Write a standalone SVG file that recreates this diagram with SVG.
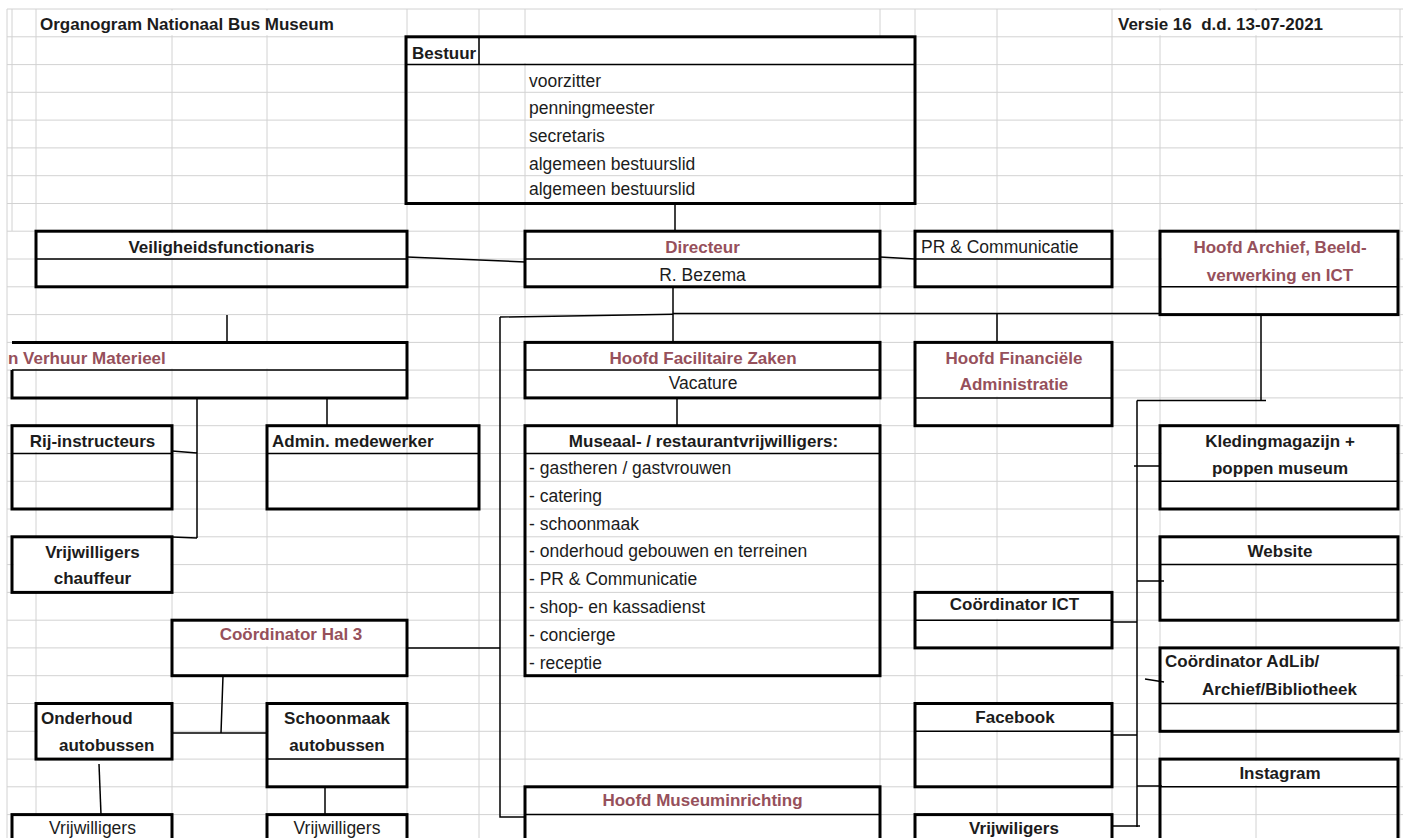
<svg xmlns="http://www.w3.org/2000/svg" width="1403" height="838" viewBox="0 0 1403 838">
<style>
.g{stroke:#d2d2d2;stroke-width:1;fill:none}
.h{stroke:#ffffff;stroke-width:3;fill:none}
.box{fill:none;stroke:#000;stroke-width:3}
.sep{stroke:#000;stroke-width:1.5;fill:none}
.c{stroke:#000;stroke-width:1.5;fill:none}
text{font-family:"Liberation Sans",Arial,sans-serif;fill:#1c1c1c}
.t{font-size:17.5px}
.b{font-size:17px;font-weight:bold}
.m{font-size:17px;font-weight:bold;fill:#96505b}
.mid{text-anchor:middle}
</style>
<defs>
<clipPath id="clipL"><rect x="7.5" y="0" width="1400" height="838"/></clipPath>
</defs>
<rect width="1403" height="838" fill="#fff"/>
<g id="grid">
<path class="g" d="M7 9V838M12 9V231M36 9V838M172 9V838M267 9V838M407 9V838M479 9V838M525 9V838M880 9V838M915 9V838M997 9V838M1112 9V838M1160 9V838M1256 9V838M1400 9V838"/>
<path class="h" d="M172 10.5V35.3M267 10.5V35.3M1160 10.5V35.3M1256 10.5V35.3M525 38V63M880 38V202M172 232.7V257.5M267 232.7V257.5M997 232.7V257.5M1256 232.7V285.3M36 343.9V368.6M172 343.9V368.6M267 343.9V368.6M997 343.9V396.4M36 427.2V452M1256 427.2V479.8M36 538.3V590.9M1256 538.3V563.1M997 593.9V618.7M267 621.7V646.4M1256 649.4V702M997 705V729.8M1256 760.6V785.3M36 816V838M997 816V838"/>
<path class="g" d="M7 9H1403M7 36.8H1403M7 64.6H1403M7 92.3H1403M7 120.1H1403M7 147.9H1403M7 175.7H1403M7 203.5H1403M7 231.2H1403M7 259H1403M7 286.8H1403M7 314.6H1403M7 342.4H1403M7 370.1H1403M7 397.9H1403M7 425.7H1403M7 453.5H1403M7 481.3H1403M7 509H1403M7 536.8H1403M7 564.6H1403M7 592.4H1403M7 620.2H1403M7 647.9H1403M7 675.7H1403M7 703.5H1403M7 731.3H1403M7 759.1H1403M7 786.8H1403M7 814.6H1403"/>
<path class="h" d="M1162 259H1396.5M916.5 370.1H1110.5M1161.5 453.5H1396.5M13.5 564.6H170.5M1161.5 675.7H1396.5M37.5 731.3H170.5M268.5 731.3H405.5"/>
</g>
<g id="connectors">
<path class="c" d="M675 203.5V231.2"/>
<path class="c" d="M407 257L525 262"/>
<path class="c" d="M880 257L915 259"/>
<path class="c" d="M673 286.8V342.4"/>
<path class="c" d="M500 317L673 314.3M673 313.5H1160"/>
<path class="c" d="M500 317V817H525"/>
<path class="c" d="M407 648H500"/>
<path class="c" d="M997 313.5V342.4"/>
<path class="c" d="M227 315V342.4"/>
<path class="c" d="M327 397.9V425.7"/>
<path class="c" d="M197 397.9V538M172 451L197 453M172 537L197 538"/>
<path class="c" d="M677 397.9V425.7"/>
<path class="c" d="M223 675.7L221 733M172 733H267"/>
<path class="c" d="M99 764L101 814.6"/>
<path class="c" d="M325 786.8V814.6"/>
<path class="c" d="M1261 314V401M1266 400.5H1137M1137 400.5V827"/>
<path class="c" d="M1134 466H1160M1137 581H1164M1112 622H1137M1145 679L1164 682M1112 735H1137M1137 786H1162M1112 826H1140"/>
</g>
<g id="header">
<text class="b" x="40" y="29.5">Organogram Nationaal Bus Museum</text>
<text class="b" x="1118" y="29.5" xml:space="preserve" style="white-space:pre">Versie 16  d.d. 13-07-2021</text>
</g>
<g id="bestuur">
<rect class="box" x="406" y="36.8" width="509" height="166.7"/>
<path class="sep" d="M406 64.6H915M479 36.8V64.6"/>
<text class="b" x="412" y="58.5">Bestuur</text>
<text class="t" x="529" y="86.5">voorzitter</text>
<text class="t" x="529" y="114.3">penningmeester</text>
<text class="t" x="529" y="142">secretaris</text>
<text class="t" x="529" y="169.8">algemeen bestuurslid</text>
<text class="t" x="529" y="195">algemeen bestuurslid</text>
</g>
<g id="veiligheid">
<rect class="box" x="36" y="231.2" width="371" height="55.6"/>
<path class="sep" d="M36 259H407"/>
<text class="b mid" x="221.5" y="253">Veiligheidsfunctionaris</text>
</g>
<g id="directeur">
<rect class="box" x="525" y="231.2" width="355" height="55.6"/>
<path class="sep" d="M525 259H880"/>
<text class="m mid" x="702.5" y="253">Directeur</text>
<text class="t mid" x="702.5" y="280.5">R. Bezema</text>
</g>
<g id="pr">
<rect class="box" x="915" y="231.2" width="197" height="55.6"/>
<path class="sep" d="M915 259H1112"/>
<text class="t" x="921" y="253">PR &amp; Communicatie</text>
</g>
<g id="archief">
<rect class="box" x="1160" y="231.2" width="238" height="83.4"/>
<path class="sep" d="M1160 286.8H1398"/>
<text class="m mid" x="1280" y="253">Hoofd Archief, Beeld-</text>
<text class="m mid" x="1280" y="280.5">verwerking en ICT</text>
</g>
<g id="verhuur">
<path class="box" d="M12 342.4H407V397.9H12V370.1"/>
<path class="sep" d="M12 370.1H407"/>
<text class="m" x="8" y="363.5" clip-path="url(#clipL)">n Verhuur Materieel</text>
</g>
<g id="facilitaire">
<rect class="box" x="525" y="342.4" width="355" height="55.5"/>
<path class="sep" d="M525 370.1H880"/>
<text class="m mid" x="703" y="363.5">Hoofd Facilitaire Zaken</text>
<text class="t mid" x="703" y="389">Vacature</text>
</g>
<g id="financieel">
<rect class="box" x="915" y="342.4" width="197" height="83.3"/>
<path class="sep" d="M915 397.9H1112"/>
<text class="m mid" x="1014" y="363.5">Hoofd Financiële</text>
<text class="m mid" x="1014" y="389.5">Administratie</text>
</g>
<g id="rij">
<rect class="box" x="12" y="425.7" width="160" height="83.3"/>
<path class="sep" d="M12 453.5H172"/>
<text class="b mid" x="92.5" y="446.5">Rij-instructeurs</text>
</g>
<g id="admin">
<rect class="box" x="267" y="425.7" width="212" height="83.3"/>
<path class="sep" d="M267 453.5H479"/>
<text class="b" x="272" y="446.5">Admin. medewerker</text>
</g>
<g id="museaal">
<rect class="box" x="525" y="425.7" width="355" height="250"/>
<path class="sep" d="M525 453.5H880"/>
<text class="b mid" x="703.5" y="446.5">Museaal- / restaurantvrijwilligers:</text>
<text class="t" x="529" y="474">- gastheren / gastvrouwen</text>
<text class="t" x="529" y="501.8">- catering</text>
<text class="t" x="529" y="529.6">- schoonmaak</text>
<text class="t" x="529" y="557.4">- onderhoud gebouwen en terreinen</text>
<text class="t" x="529" y="585.1">- PR &amp; Communicatie</text>
<text class="t" x="529" y="612.9">- shop- en kassadienst</text>
<text class="t" x="529" y="640.7">- concierge</text>
<text class="t" x="529" y="668.5">- receptie</text>
</g>
<g id="kleding">
<rect class="box" x="1160" y="425.7" width="238" height="83.3"/>
<path class="sep" d="M1160 481.3H1398"/>
<text class="b mid" x="1280" y="446.5">Kledingmagazijn +</text>
<text class="b mid" x="1280" y="473.5">poppen museum</text>
</g>
<g id="chauffeur">
<rect class="box" x="12" y="536.8" width="160" height="55.6"/>
<text class="b mid" x="92.5" y="557.5">Vrijwilligers</text>
<text class="b mid" x="92.5" y="584">chauffeur</text>
</g>
<g id="website">
<rect class="box" x="1160" y="536.8" width="238" height="83.4"/>
<path class="sep" d="M1160 564.6H1398"/>
<text class="b mid" x="1280" y="557">Website</text>
</g>
<g id="ict">
<rect class="box" x="915" y="592.4" width="197" height="55.5"/>
<path class="sep" d="M915 620.2H1112"/>
<text class="b mid" x="1014.5" y="610">Coördinator ICT</text>
</g>
<g id="hal3">
<rect class="box" x="172" y="620.2" width="235" height="55.5"/>
<text class="m mid" x="291" y="639.5">Coördinator Hal 3</text>
</g>
<g id="adlib">
<rect class="box" x="1160" y="647.9" width="238" height="83.4"/>
<path class="sep" d="M1160 703.5H1398"/>
<text class="b" x="1165" y="666.5">Coördinator AdLib/</text>
<text class="b" x="1202" y="695">Archief/Bibliotheek</text>
</g>
<g id="onderhoud">
<rect class="box" x="36" y="703.5" width="136" height="55.6"/>
<text class="b" x="41" y="723.5">Onderhoud</text>
<text class="b" x="59" y="750.5">autobussen</text>
</g>
<g id="schoonmaak">
<rect class="box" x="267" y="703.5" width="140" height="83.3"/>
<path class="sep" d="M267 759.1H407"/>
<text class="b mid" x="337" y="723.5">Schoonmaak</text>
<text class="b mid" x="337" y="750.5">autobussen</text>
</g>
<g id="facebook">
<rect class="box" x="915" y="703.5" width="197" height="83.3"/>
<path class="sep" d="M915 731.3H1112"/>
<text class="b mid" x="1015" y="723">Facebook</text>
</g>
<g id="instagram">
<rect class="box" x="1160" y="759.1" width="238" height="95"/>
<path class="sep" d="M1160 786.8H1398"/>
<text class="b mid" x="1280" y="779">Instagram</text>
</g>
<g id="museuminrichting">
<rect class="box" x="525" y="786.8" width="355" height="70"/>
<path class="sep" d="M525 814.6H880"/>
<text class="m mid" x="702.5" y="806">Hoofd Museuminrichting</text>
</g>
<g id="vrijw-onderhoud">
<rect class="box" x="12" y="814.6" width="160" height="40"/>
<text class="t mid" x="92.5" y="834">Vrijwilligers</text>
</g>
<g id="vrijw-schoonmaak">
<rect class="box" x="267" y="814.6" width="140" height="40"/>
<text class="t mid" x="337" y="834">Vrijwilligers</text>
</g>
<g id="vrijw-ict">
<rect class="box" x="915" y="814.6" width="197" height="40"/>
<text class="b mid" x="1014" y="834">Vrijwiligers</text>
</g>
</svg>
